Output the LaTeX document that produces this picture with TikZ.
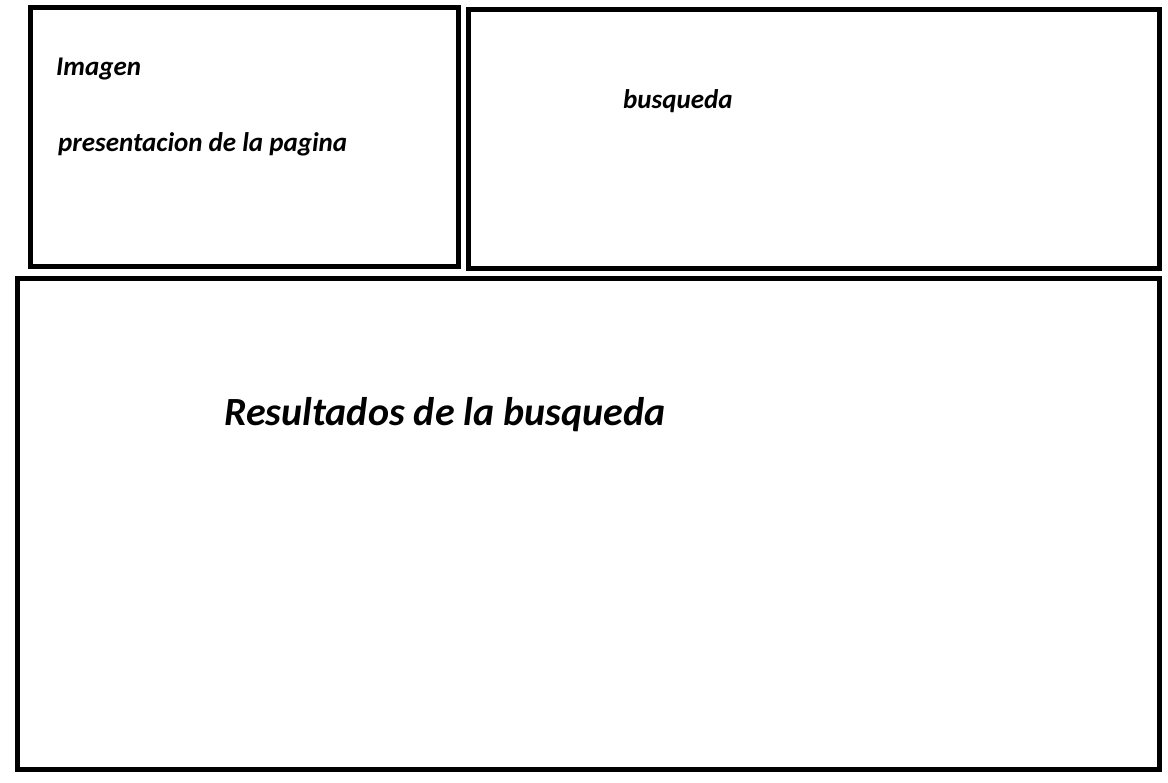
\documentclass[tikz,border=0pt]{standalone}
\usepackage{fontspec}
\setmainfont{Carlito}
\usepackage{xcolor}
\definecolor{cLine}{HTML}{000000}
\usetikzlibrary{positioning}
\tikzset{
  panel-box/.style={draw=cLine,line width=5pt,inner sep=0pt},
  panel-label/.style={anchor=base west,inner sep=0pt,
    font=\fontsize{27}{32}\selectfont\bfseries\itshape},
  panel-title/.style={anchor=base west,inner sep=0pt,
    font=\fontsize{40}{48}\selectfont\bfseries\itshape},
}
\begin{document}
\begin{tikzpicture}[x=1pt,y=-1pt]
  \useasboundingbox (0,0) rectangle (1168,783);
  % paneles
  \node[panel-box,minimum width=428pt,minimum height=259pt] (imgbox) at (244.5,137) {};
  \node[panel-box,minimum width=691pt,minimum height=259.5pt] (searchbox) at (814,139.25) {};
  \node[panel-box,minimum width=1142pt,minimum height=490.5pt] (resultbox) at (588.5,523.75) {};
  % textos
  \node[panel-label] (imgtext) at (56,76) {Imagen};
  \node[panel-label] (presentext) at (58,152) {presentacion de la pagina};
  \node[panel-label] (searchtext) at (623,109) {busqueda};
  \node[panel-title] (resulttext) at (224,426) {Resultados de la busqueda};
\end{tikzpicture}
\end{document}
